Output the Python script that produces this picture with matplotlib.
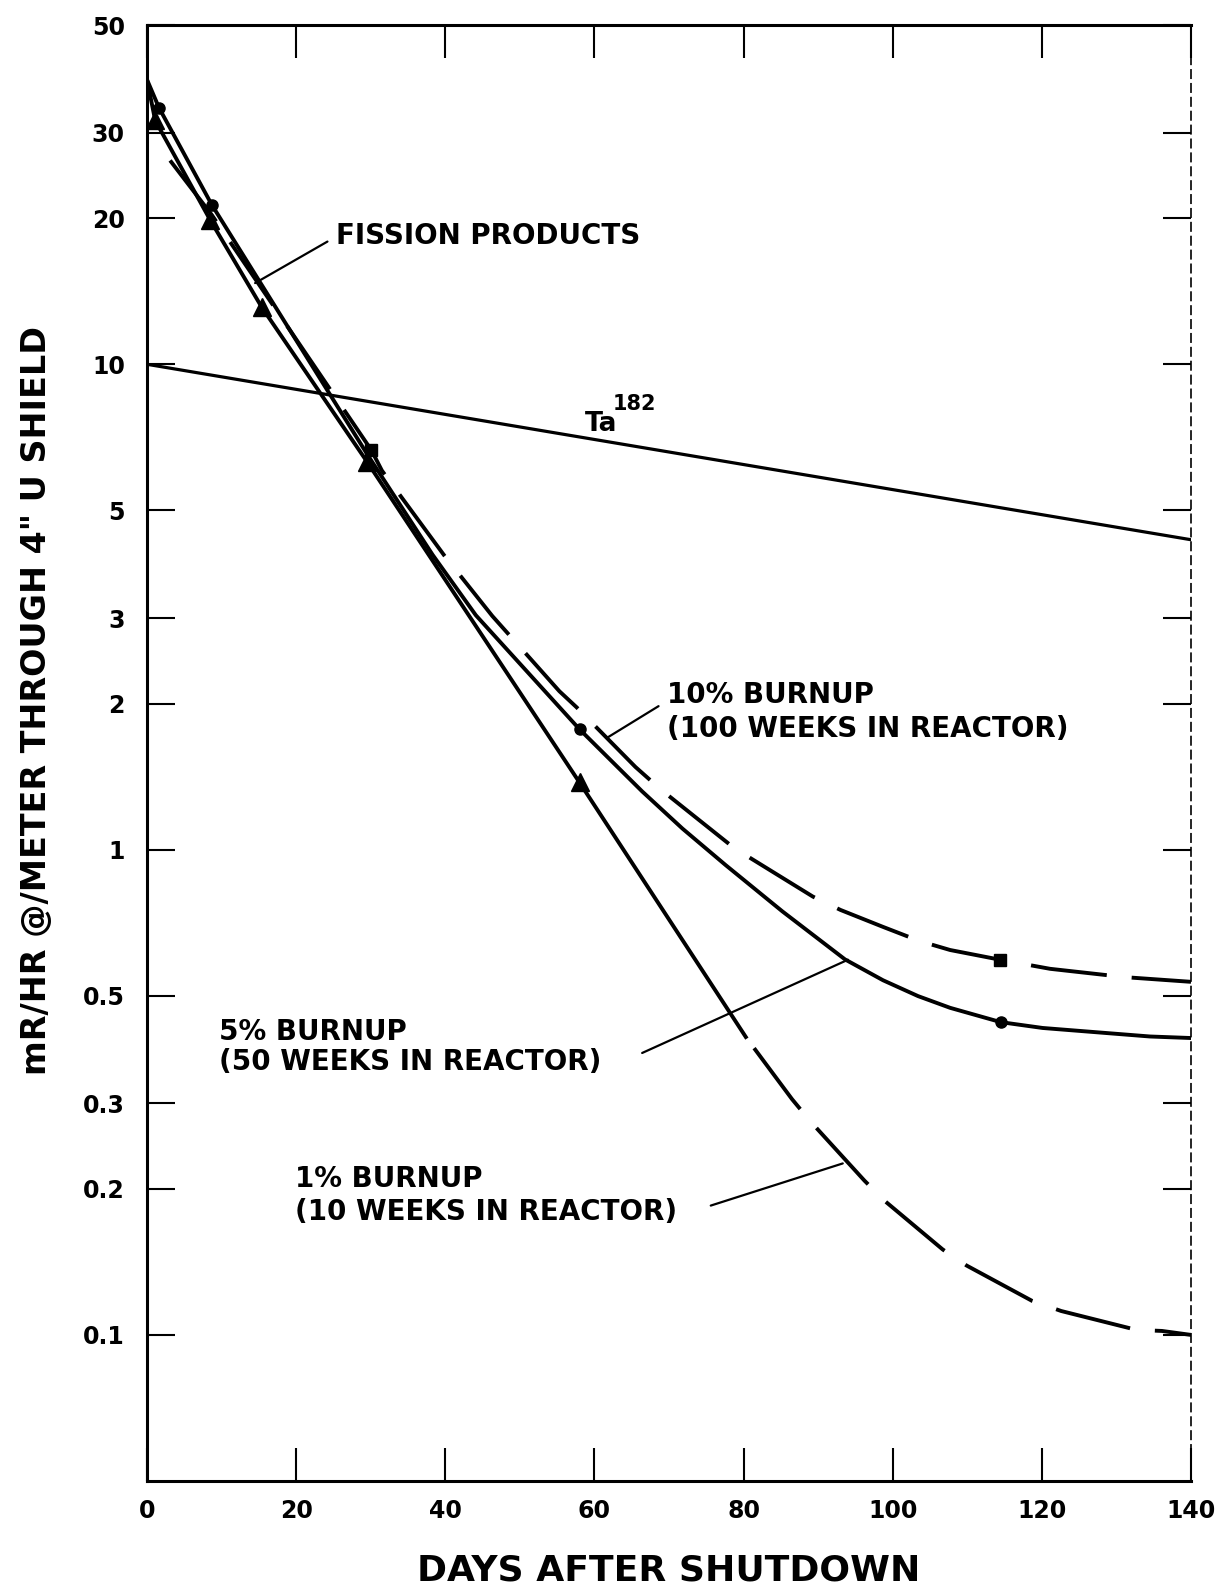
import matplotlib
matplotlib.use("Agg")
import matplotlib.pyplot as plt

plt.rcParams["font.family"] = ["DejaVu Sans"]
plt.rcParams["font.weight"] = "bold"
plt.rcParams["axes.labelweight"] = "bold"
plt.rcParams["lines.scale_dashes"] = False

# ── values (days after shutdown, mR/hr) ──
ta_days = [0, 140]
ta_vals = [10.0, 4.35]

# 1% burnup = fission products curve: solid, then dashed extrapolation
b1_solid_days = [0, 1.1, 8.5, 15.4, 29.5, 58, 80.3]
b1_solid_vals = [38.6, 31.8, 19.8, 13.1, 6.3, 1.375, 0.411]
b1_dash_days = [80.3, 86.5, 89.0, 96.2, 98.9, 106.7, 109.9, 118.7, 122.6, 132.7, 136.1, 140]
b1_dash_vals = [0.411, 0.306, 0.275, 0.208, 0.189, 0.150, 0.139, 0.1175, 0.112, 0.1024, 0.1019, 0.100]
b1_pt_days = [1.1, 8.5, 15.4, 29.5, 58]
b1_pt_vals = [31.8, 19.8, 13.1, 6.3, 1.375]

# 5% burnup (solid, circles)
b5_days = [0, 1.6, 8.7, 29.6, 38.3, 44.1, 58, 66.4, 71.8, 77.6, 85.2, 93.6, 98.7, 103.4,
           107.7, 114.5, 120.1, 126.8, 134.5, 140]
b5_vals = [38.6, 33.8, 21.3, 6.5, 4.05, 3.04, 1.77, 1.318, 1.105, 0.929, 0.746, 0.594, 0.538, 0.499,
           0.472, 0.441, 0.429, 0.421, 0.412, 0.409]
b5_pt_days = [1.6, 8.7, 58, 114.5]
b5_pt_vals = [33.8, 21.3, 1.77, 0.441]

# 10% burnup (dashed, squares)
b10_days = [3.1, 8.7, 30.1, 31.5, 39.9, 46.3, 55.3, 57.6, 65.5, 68.9, 78.3, 80.8, 89.3, 93.0,
            98.7, 103.6, 107.7, 114.4, 121.1, 131.1, 140]
b10_vals = [26.3, 20.3, 6.65, 6.04, 4.03, 3.03, 2.12, 1.965, 1.48, 1.33, 1.02, 0.963, 0.80, 0.751,
            0.693, 0.648, 0.621, 0.593, 0.568, 0.546, 0.534]
b10_pt_days = [30.1, 114.4]
b10_pt_vals = [6.65, 0.593]

x_ticks = [0, 20, 40, 60, 80, 100, 120, 140]
x_ticklabels = ["0", "20", "40", "60", "80", "100", "120", "140"]
y_ticks = [0.1, 0.2, 0.3, 0.5, 1, 2, 3, 5, 10, 20, 30, 50]
y_ticklabels = ["0.1", "0.2", "0.3", "0.5", "1", "2", "3", "5", "10", "20", "30", "50"]

# labels: text, anchor (day, value)
labels = [
    ("FISSION PRODUCTS", (25.4, 18.4)),
    ("10% BURNUP", (69.7, 2.08)),
    ("(100 WEEKS IN REACTOR)", (69.7, 1.77)),
    ("5% BURNUP", (9.7, 0.42)),
    ("(50 WEEKS IN REACTOR)", (9.7, 0.365)),
    ("1% BURNUP", (19.9, 0.21)),
    ("(10 WEEKS IN REACTOR)", (19.9, 0.1795)),
]
# leader lines: (text end, curve end)
leaders = [
    ((24.2, 17.9), (14.5, 14.7)),
    ((68.6, 1.975), (61.7, 1.70)),
    ((66.4, 0.381), (94.0, 0.593)),
    ((75.6, 0.1847), (93.3, 0.2256)),
]

LW = 2.8
DASH = (0, (55, 18))

fig = plt.figure(figsize=(12.3, 15.86), dpi=100)
ax = fig.add_axes([0.1195, 0.0662, 0.8488, 0.918])
ax.set_yscale("log")

ax.plot(ta_days, ta_vals, color="black", lw=2.3)
ax.plot(b1_solid_days, b1_solid_vals, color="black", lw=LW)
ax.plot(b1_dash_days, b1_dash_vals, color="black", lw=LW, linestyle=(63, (55, 18)))
ax.plot(b5_days, b5_vals, color="black", lw=LW)
ax.plot(b10_days, b10_vals, color="black", lw=LW, linestyle=DASH)

ax.plot(b1_pt_days, b1_pt_vals, linestyle="none", marker="^", ms=13, color="black")
ax.plot(b5_pt_days, b5_pt_vals, linestyle="none", marker="o", ms=8, color="black")
ax.plot(b10_pt_days, b10_pt_vals, linestyle="none", marker="s", ms=9, color="black")

for txt, (dx, dy) in labels:
    ax.text(dx, dy, txt, fontsize=20, ha="left", va="center")
ax.text(58.7, 7.55, "Ta", fontsize=19, ha="left", va="center")
ax.text(62.4, 8.3, "182", fontsize=15, ha="left", va="center")

for p0, p1 in leaders:
    ax.annotate("", xy=p1, xytext=p0,
                arrowprops=dict(arrowstyle="-", lw=1.6, color="black", shrinkA=0, shrinkB=0))

ax.set_xlim(0, 140)
ax.set_ylim(0.05, 50)
ax.set_xticks(x_ticks)
ax.set_xticklabels(x_ticklabels)
ax.set_yticks(y_ticks)
ax.set_yticklabels(y_ticklabels)
ax.minorticks_off()

ax.tick_params(axis="x", which="major", direction="in", length=24, width=1.5,
               top=True, labelsize=17, pad=13)
ax.tick_params(axis="y", which="major", direction="in", length=20, width=1.5,
               right=True, labelsize=17, pad=16)
for s in ("left", "bottom", "top"):
    ax.spines[s].set_linewidth(2.2)
ax.spines["right"].set_linewidth(1.2)
ax.spines["right"].set_linestyle((0, (6, 4)))

ax.set_xlabel("DAYS AFTER SHUTDOWN", fontsize=26, fontweight="bold")
ax.xaxis.set_label_coords(0.5, -0.05)
ax.set_ylabel('mR/HR @/METER THROUGH 4" U SHIELD', fontsize=24, fontweight="bold")
ax.yaxis.set_label_coords(-0.09, 0.536)

fig.savefig("out.png", dpi=100)
